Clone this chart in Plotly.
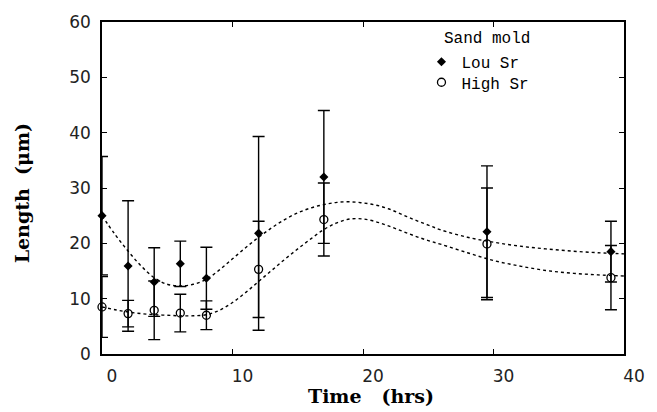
import plotly.graph_objects as go

# Sampling times (hrs)
time_hrs = [0, 2, 4, 6, 8, 12, 17, 29.5, 39]

# Mean length (um) and error half-widths for each alloy
low_sr = [25.0, 15.9, 13.0, 16.3, 13.7, 21.8, 32.0, 22.1, 18.5]
low_sr_err = [10.7, 11.8, 6.2, 4.1, 5.6, 17.5, 12.0, 11.9, 5.5]
high_sr = [8.5, 7.3, 7.9, 7.4, 7.0, 15.3, 24.3, 19.9, 13.8]
high_sr_err = [5.5, 2.4, 5.3, 3.4, 2.6, 8.7, 6.6, 10.1, 5.8]

# Smoothed trend curves
fit_time = [0, 1, 2, 3, 4, 5, 6, 7, 8, 9, 10, 11, 12, 13, 14, 15, 16, 17, 18, 19,
            20, 21, 22, 23, 24, 25, 26, 28, 30, 32, 34, 36, 38, 40]
low_fit = [25.0, 21.6, 18.6, 15.9, 13.8, 12.6, 12.3, 12.6, 13.5, 15.2, 17.2, 19.2,
           21.1, 22.8, 24.3, 25.5, 26.4, 27.0, 27.4, 27.5, 27.3, 26.9, 26.2, 25.2,
           24.2, 23.3, 22.4, 21.1, 20.2, 19.5, 19.0, 18.6, 18.3, 18.1]
high_fit = [8.5, 8.0, 7.6, 7.3, 7.1, 7.0, 6.9, 6.9, 7.1, 7.9, 9.3, 11.1, 13.1, 15.1,
            17.1, 19.0, 20.8, 22.5, 23.7, 24.4, 24.4, 23.9, 23.1, 22.2, 21.3, 20.5,
            19.8, 18.3, 16.9, 15.9, 15.1, 14.6, 14.3, 14.1]

x_ticks = [0, 10, 20, 30, 40]
y_ticks = [0, 10, 20, 30, 40, 50, 60]

fig = go.Figure()

for fit in (low_fit, high_fit):
    fig.add_trace(go.Scatter(
        x=fit_time, y=fit, mode="lines", line=dict(color="black", width=1.4, dash="dot", shape="spline"),
        showlegend=False, hoverinfo="skip"))

fig.add_trace(go.Scatter(
    x=time_hrs, y=low_sr, mode="markers", name="Lou Sr", cliponaxis=False, legend="legend",
    marker=dict(symbol="diamond", size=7, color="black"),
    error_y=dict(type="data", array=low_sr_err, color="black", thickness=1.4, width=6)))

fig.add_trace(go.Scatter(
    x=time_hrs, y=high_sr, mode="markers", name="High Sr", cliponaxis=False, legend="legend2",
    marker=dict(symbol="circle-open", size=8, color="black", line=dict(width=1.3)),
    error_y=dict(type="data", array=high_sr_err, color="black", thickness=1.4, width=6)))

axis_common = dict(
    showline=True, linecolor="black", linewidth=1.5, mirror="ticks",
    ticks="inside", ticklen=5, tickcolor="black", tickwidth=1.3,
    showgrid=False, zeroline=False,
    tickfont=dict(family="DejaVu Sans", size=17, color="#222"),
)

fig.update_xaxes(range=[0, 40], tickvals=x_ticks, ticklabelshift=10, ticklabelstandoff=6, **axis_common)
fig.update_yaxes(range=[0, 60], tickvals=y_ticks, ticklabelstandoff=6, **axis_common)

legend_font = dict(family="Liberation Mono", size=16, color="black")
legend_common = dict(x=0.612, xanchor="left", yanchor="middle", bgcolor="rgba(0,0,0,0)",
                     itemwidth=30, font=legend_font)

fig.update_layout(
    width=657, height=412,
    margin=dict(l=102, r=33, t=13, b=58),
    paper_bgcolor="white", plot_bgcolor="white",
    showlegend=True,
    legend=dict(y=1 - (54 - 13) / 341, **legend_common),
    legend2=dict(y=1 - (75 - 13) / 341, **legend_common),
    annotations=[
        dict(text="Sand mold", xref="paper", yref="paper", x=0.652, y=1 - (30 - 13) / 341,
             xanchor="left", yanchor="middle", showarrow=False, font=legend_font),
        dict(text="<b>Time   (hrs)</b>", xref="paper", yref="paper", x=(371 - 102) / 522,
             y=-(397 - 354) / 341, xanchor="center", yanchor="middle", showarrow=False,
             font=dict(family="DejaVu Serif", size=19, color="black")),
        dict(text="<b>Length  (μm)</b>", xref="paper", yref="paper", x=-(102 - 22) / 522,
             y=1 - (189 - 13) / 341, xanchor="center", yanchor="middle", textangle=-90,
             showarrow=False, font=dict(family="DejaVu Serif", size=19, color="black")),
    ],
)

fig.write_html("out.html")
